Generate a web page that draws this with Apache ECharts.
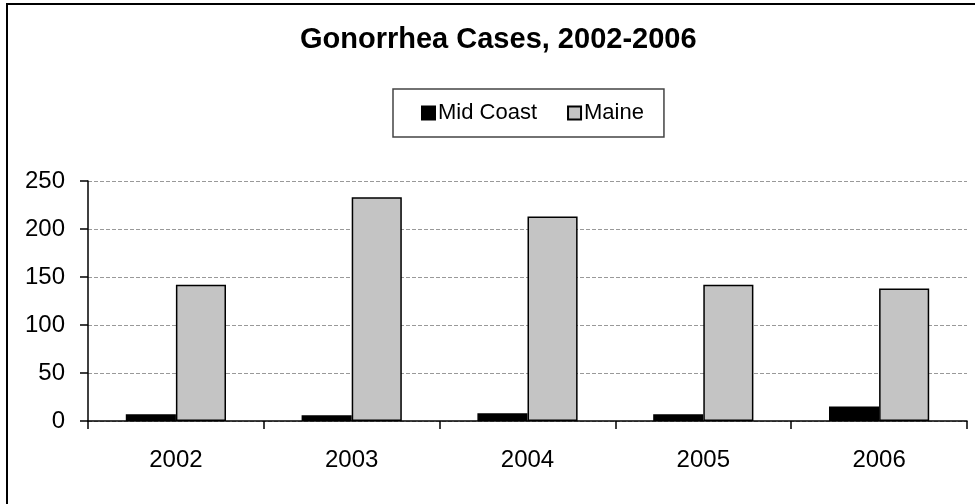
<!DOCTYPE html>
<html>
<head>
<meta charset="utf-8">
<script src="https://cdn.jsdelivr.net/npm/echarts@6/dist/echarts.min.js"></script>
<style>
html, body { margin: 0; padding: 0; background: #fff; }
#chart { width: 975px; height: 504px; }
</style>
</head>
<body>
<div id="chart"></div>
<script>
// data
var years = ['2002', '2003', '2004', '2005', '2006'];
var midCoast = [7, 6, 8, 7, 15];
var maine = [142, 233, 213, 142, 138];
var yTicks = [0, 50, 100, 150, 200, 250];

var font = 'Liberation Sans, Arial, sans-serif';
var mychart = echarts.init(document.getElementById('chart'));

var option = {
    animation: false,
    // chart frame: only the top and left edges show, the rest is cropped off
    graphic: [{
        type: 'rect',
        shape: { x: 7, y: 4, width: 1200, height: 800 },
        style: { fill: null, stroke: '#000', lineWidth: 2 },
        silent: true
    }],
    title: {
        text: 'Gonorrhea Cases, 2002-2006',
        left: 295,
        top: 20,
        textStyle: { fontFamily: font, fontSize: 29, fontWeight: 'bold', color: '#000' }
    },
    legend: {
        data: ['Mid Coast', 'Maine'],
        left: 393,
        top: 89,
        padding: [13, 20, 13, 28],
        borderColor: '#444',
        borderWidth: 1.5,
        itemWidth: 13,
        itemHeight: 13,
        itemGap: 30,
        icon: 'rect',
        textStyle: { fontFamily: font, fontSize: 22, color: '#000', padding: [0, 0, 0, -2] }
    },
    grid: { left: 88, right: 8, top: 181, bottom: 83 },
    xAxis: {
        type: 'category',
        data: years,
        axisLine: { lineStyle: { color: '#000', width: 1.5 } },
        axisTick: { show: true, length: 8, lineStyle: { color: '#000', width: 1.5 } },
        axisLabel: { fontFamily: font, fontSize: 24, color: '#000', margin: 27 }
    },
    yAxis: {
        type: 'value',
        min: 0,
        max: yTicks[yTicks.length - 1],
        interval: 50,
        axisLine: { show: true, lineStyle: { color: '#000', width: 1.5 } },
        axisTick: { show: true, length: 8, lineStyle: { color: '#000', width: 1.5 } },
        axisLabel: { fontFamily: font, fontSize: 24, color: '#000', margin: 23 },
        splitLine: { lineStyle: { color: '#999', type: [4, 2], width: 1 } }
    },
    series: [
        {
            name: 'Mid Coast',
            type: 'bar',
            data: midCoast,
            barGap: '0%',
            barCategoryGap: '43%',
            itemStyle: { color: '#000', borderColor: '#000', borderWidth: 1.5 }
        },
        {
            name: 'Maine',
            type: 'bar',
            data: maine,
            itemStyle: { color: '#c4c4c4', borderColor: '#000', borderWidth: 1.5 }
        }
    ]
};

mychart.setOption(option);
</script>
</body>
</html>
